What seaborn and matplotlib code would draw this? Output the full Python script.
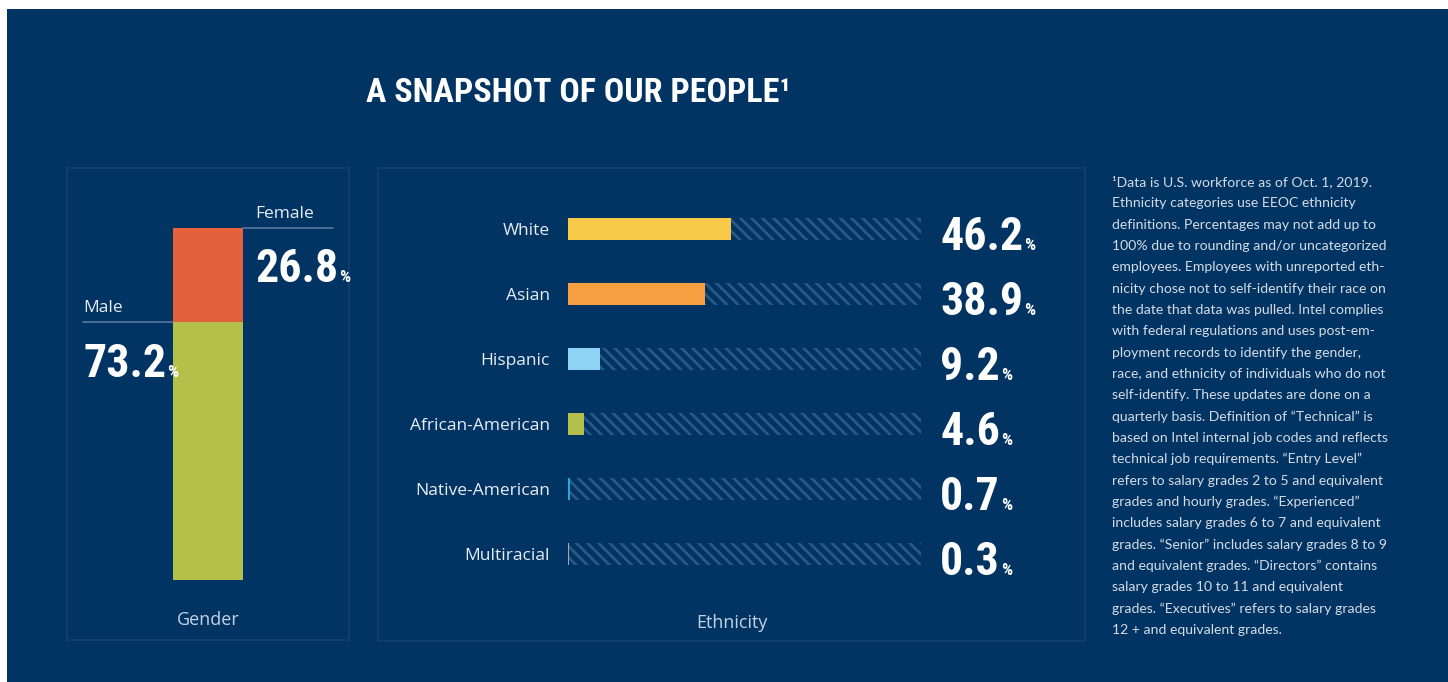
import matplotlib
matplotlib.use("Agg")
import matplotlib.pyplot as plt
from matplotlib import font_manager
from matplotlib.patches import Rectangle
import seaborn as sns
import pandas as pd

# ---------------- data ----------------
gender_groups = ["Male", "Female"]
gender_values = [73.2, 26.8]

eth_groups = ["White", "Asian", "Hispanic", "African-American", "Native-American", "Multiracial"]
eth_values = [46.2, 38.9, 9.2, 4.6, 0.7, 0.3]
scale_max = 100

title_text = "A SNAPSHOT OF OUR PEOPLE\u00b9"
footnote_lines = [
    "\u00b9Data is U.S. workforce as of Oct. 1, 2019.",
    "Ethnicity categories use EEOC ethnicity",
    "definitions. Percentages may not add up to",
    "100% due to rounding and/or uncategorized",
    "employees. Employees with unreported eth-",
    "nicity chose not to self-identify their race on",
    "the date that data was pulled. Intel complies",
    "with federal regulations and uses post-em-",
    "ployment records to identify the gender,",
    "race, and ethnicity of individuals who do not",
    "self-identify. These updates are done on a",
    "quarterly basis. Definition of \u201cTechnical\u201d is",
    "based on Intel internal job codes and reflects",
    "technical job requirements. \u201cEntry Level\u201d",
    "refers to salary grades 2 to 5 and equivalent",
    "grades and hourly grades. \u201cExperienced\u201d",
    "includes salary grades 6 to 7 and equivalent",
    "grades. \u201cSenior\u201d includes salary grades 8 to 9",
    "and equivalent grades. \u201cDirectors\u201d contains",
    "salary grades 10 to 11 and equivalent",
    "grades. \u201cExecutives\u201d refers to salary grades",
    "12 + and equivalent grades.",
]

# ---------------- style ----------------
NAVY = "#023463"
PANEL_EDGE = "#113f6d"
HATCH_COL = "#2a5887"
eth_colors = ["#F9C94A", "#F7A041", "#8FD3F4", "#B3C14A", "#2BA6DF", "#A8ACA8"]
female_col = "#E4613C"
male_col = "#B3C14A"

sns.set_theme(style="white")
avail = {f.name for f in font_manager.fontManager.ttflist}


def pick(*names):
    for n in names:
        if n in avail:
            return n
    return "DejaVu Sans"


COND = pick("Roboto Condensed", "Liberation Sans Narrow", "DejaVu Sans")
SANS = pick("Open Sans", "Noto Sans", "DejaVu Sans")
LATO = pick("Lato", "Open Sans", "DejaVu Sans")
plt.rcParams["font.family"] = [SANS, "DejaVu Sans"]
plt.rcParams["hatch.linewidth"] = 2.0

W, H = 1448, 682
fig = plt.figure(figsize=(W / 100, H / 100), dpi=100)
fig.patch.set_facecolor("white")


def fx(px):
    return px / W


def fy(py):
    return 1 - py / H


# navy background
fig.add_artist(Rectangle((fx(7), 0), 1 - fx(7), fy(9), transform=fig.transFigure,
                         facecolor=NAVY, edgecolor="none", zorder=-10))
# panels
for (x0, y0, x1, y1) in [(67, 168, 349, 640), (378, 168, 1085, 641)]:
    fig.add_artist(Rectangle((fx(x0), fy(y1)), fx(x1) - fx(x0), fy(y0) - fy(y1),
                             transform=fig.transFigure, facecolor="none",
                             edgecolor=PANEL_EDGE, lw=1.3, zorder=-5))

# title
fig.text(fx(578), fy(102), title_text, ha="center", va="baseline", color="white",
         fontsize=24.5, fontweight="bold", family=COND)

BIG = 33
PCT = 12.5
big_texts = []  # (axes, text artist, x, y)

# ---------------- gender stacked bar ----------------
ax_g = fig.add_axes([fx(67), fy(580), fx(349) - fx(67), fy(228) - fy(580)])
ax_g.set_facecolor("none")
gdf = pd.DataFrame({"cat": ["Gender"], "total": [sum(gender_values)],
                    "male": [gender_values[0]]})
sns.barplot(data=gdf, x="cat", y="total", color=female_col, saturation=1,
            width=70 / 282, linewidth=0, ax=ax_g)
sns.barplot(data=gdf, x="cat", y="male", color=male_col, saturation=1,
            width=70 / 282, linewidth=0, ax=ax_g)
ax_g.set_xlim(-0.5, 0.5)
ax_g.set_ylim(0, 100)
ax_g.axis("off")

half = 35 / 282
line_col = "#5b7ea3"
tot = sum(gender_values)
male_v, female_v = gender_values
ax_g.plot([half, 0.443], [tot, tot], color=line_col, lw=1.1, clip_on=False)
ax_g.plot([-0.443, -half], [male_v, male_v], color=line_col, lw=1.1, clip_on=False)

lab_col = "#e6ecf3"
ax_g.text(0.167, tot + 2.8, "Female", ha="left", va="baseline", color=lab_col,
          fontsize=12.5, fontweight="medium", clip_on=False)
t_f = ax_g.text(0.167, tot - 15.4, f"{female_v:.1f}", ha="left", va="baseline",
                color="white", fontsize=BIG, fontweight="bold", family=COND, clip_on=False)
big_texts.append((ax_g, t_f, 0.167, tot - 15.4))
ax_g.text(-0.443, male_v + 2.9, "Male", ha="left", va="baseline", color=lab_col,
          fontsize=12.5, fontweight="medium", clip_on=False)
t_m = ax_g.text(-0.443, male_v - 15.5, f"{male_v:.1f}", ha="left", va="baseline",
                color="white", fontsize=BIG, fontweight="bold", family=COND, clip_on=False)
big_texts.append((ax_g, t_m, -0.443, male_v - 15.5))

fig.text(fx(208), fy(625), "Gender", ha="center", va="baseline", color="#c3d2e3",
         fontsize=13)

# ---------------- ethnicity bars ----------------
ax_e = fig.add_axes([fx(568), fy(586.5), fx(921) - fx(568), fy(196.5) - fy(586.5)])
ax_e.set_facecolor("none")
edf = pd.DataFrame({"group": eth_groups, "pct": eth_values,
                    "full": [scale_max] * len(eth_groups)})
sns.barplot(data=edf, x="full", y="group", color="none", fill=False, hatch="\\\\\\",
            edgecolor=HATCH_COL, linewidth=0, width=22 / 65, ax=ax_e)
sns.barplot(data=edf, x="pct", y="group", hue="group", palette=eth_colors,
            saturation=1, legend=False, linewidth=0, width=22 / 65, ax=ax_e)
ax_e.set_xlim(0, scale_max)
ax_e.set_ylim(len(eth_groups) - 0.5, -0.5)
for s in ax_e.spines.values():
    s.set_visible(False)
ax_e.set_xticks([])
ax_e.set_xlabel("")
ax_e.set_ylabel("")
ax_e.tick_params(axis="y", length=0, pad=13, labelsize=12.5, labelcolor=lab_col)
for lbl in ax_e.get_yticklabels():
    lbl.set_fontweight("medium")

for i, v in enumerate(eth_values):
    t = ax_e.text(105.4, i + 0.325, f"{v:.1f}", ha="left", va="baseline", color="white",
                  fontsize=BIG, fontweight="bold", family=COND, clip_on=False)
    big_texts.append((ax_e, t, 105.4, i + 0.325))

fig.text(fx(732), fy(628), "Ethnicity", ha="center", va="baseline", color="#c3d2e3",
         fontsize=13)

# small "%" signs sitting on the baseline right after each big number
fig.canvas.draw()
renderer = fig.canvas.get_renderer()
for ax, t, x, y in big_texts:
    bb = t.get_window_extent(renderer)
    base_y = ax.transData.transform((x, y))[1]
    ax.annotate("%", xy=(1, 0), xycoords=t, xytext=(1, base_y - bb.y0),
                textcoords="offset pixels", ha="left", va="baseline", color="white",
                fontsize=PCT, fontweight="bold", family=COND)

# ---------------- footnote ----------------
for k, line in enumerate(footnote_lines):
    fig.text(fx(1112), fy(182 + k * 21.33), line, ha="left", va="center",
             color="#d3dbe5", fontsize=10.1, family=LATO)

fig.savefig("out.png", dpi=100, facecolor=fig.get_facecolor())
